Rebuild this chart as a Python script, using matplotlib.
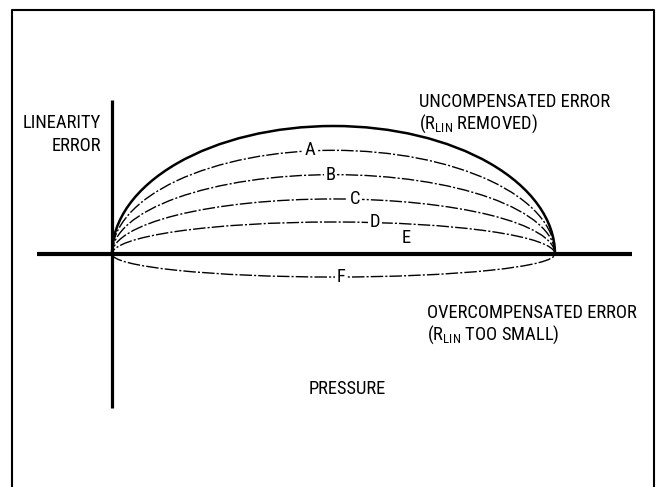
import matplotlib
matplotlib.use("Agg")
import matplotlib.pyplot as plt
from matplotlib.patches import Arc
from matplotlib.lines import Line2D
from matplotlib import font_manager

# ---- data (normalized: pressure 0..100 = full scale, error 100 = uncompensated peak) ----
curve_labels = ["", "A", "B", "C", "D", "F"]
peak_error = [100, 81, 62, 43, 25, -18]
full_scale_pressure = 100
label_pressure = [None, 44.7, 49.4, 54.9, 59.4, 51.7]
e_label_pressure = 66.4
e_label_error = 12.5

names = {f.name for f in font_manager.fontManager.ttflist}
fam = ["Roboto Condensed", "Archivo Narrow", "Liberation Sans", "DejaVu Sans"]
fam = [f for f in fam if f in names]
plt.rcParams["font.family"] = fam
plt.rcParams["mathtext.fontset"] = "custom"
plt.rcParams["mathtext.rm"] = fam[0]
FS = 13.3

fig = plt.figure(figsize=(6.56, 4.87), dpi=100)
ax = fig.add_axes([0, 0, 1, 1])
# scale: 4.43 px per pressure unit, 1.28 px per error unit; origin at pixel (112, 254)
ax.set_xlim(-112 / 4.43, (656 - 112) / 4.43)
ax.set_ylim(-(487 - 254) / 1.28, 254 / 1.28)
ax.axis("off")

# outer frame (no bottom edge)
fig.add_artist(Line2D([12 / 656, 12 / 656, 654 / 656, 654 / 656],
                      [0, 1 - 10 / 487, 1 - 10 / 487, 0],
                      color="black", lw=1.5, transform=fig.transFigure))

# axes lines
ax.plot([-16.9, 117.4], [0, 0], color="black", lw=3.0, solid_capstyle="butt", zorder=3)
ax.plot([0, 0], [-120.3, 120.3], color="black", lw=2.3, solid_capstyle="butt", zorder=3)

cx = full_scale_pressure / 2
for i, (lab, pk) in enumerate(zip(curve_labels, peak_error)):
    if pk >= 0:
        t1, t2 = 0, 180
    else:
        t1, t2 = 180, 360
    if i == 0:
        ls, lw = "-", 1.8
    else:
        ls, lw = (0, (9, 1.5, 1.5, 1.5)), 1.0
    arc = Arc((cx, 0), full_scale_pressure, 2 * abs(pk), theta1=t1, theta2=t2,
              color="black", lw=lw, linestyle=ls, zorder=2)
    ax.add_patch(arc)
    if lab:
        ax.text(label_pressure[i], pk, lab, fontsize=FS, ha="center", va="center",
                bbox=dict(fc="white", ec="none", pad=1.0), zorder=4)

ax.text(e_label_pressure, e_label_error, "E", fontsize=FS, ha="center", va="center", zorder=4)

# annotations
sub = r"$_{\mathrm{LIN}}$"
ax.text(-2.5, 98.4, "LINEARITY", fontsize=FS, ha="right", va="baseline")
ax.text(-2.5, 80.5, "ERROR", fontsize=FS, ha="right", va="baseline")
ax.text(69.3, 115.2, "UNCOMPENSATED ERROR", fontsize=FS, ha="left", va="baseline")
ax.text(69.3, 98.0, "(R" + sub + " REMOVED)", fontsize=FS, ha="left", va="baseline")
ax.text(71.1, -50.0, "OVERCOMPENSATED ERROR", fontsize=FS, ha="left", va="baseline")
ax.text(71.1, -67.2, "(R" + sub + " TOO SMALL)", fontsize=FS, ha="left", va="baseline")
ax.text(53.0, -109.4, "PRESSURE", fontsize=FS, ha="center", va="baseline")

fig.savefig("out.png", dpi=100, facecolor="white")
